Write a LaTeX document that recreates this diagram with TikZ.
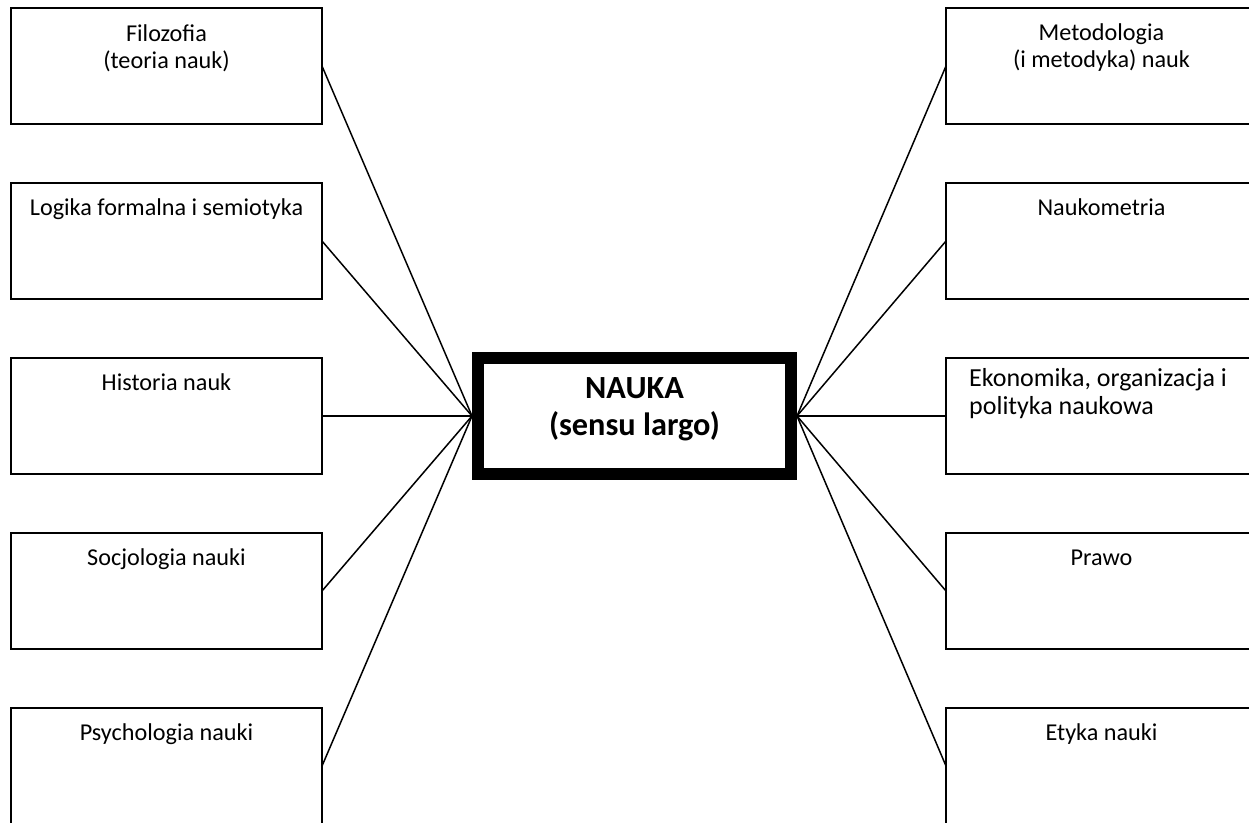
\documentclass[tikz,border=0pt]{standalone}
\usepackage{fontspec}
\setmainfont{Carlito}
\begin{document}
\begin{tikzpicture}[x=1pt,y=-1pt,
  box/.style={draw=black,line width=1.5pt,rectangle,minimum width=311pt,minimum height=116pt,inner sep=0pt,outer sep=0pt,anchor=north west},
  boxtext/.style={anchor=north,inner sep=0pt,align=center,font=\fontsize{24.2pt}{27pt}\selectfont},
  lefttext/.style={anchor=north west,inner sep=0pt,align=left,font=\fontsize{26pt}{27.5pt}\selectfont},
  hub/.style={draw=black,line width=12pt,rectangle,minimum width=313pt,minimum height=116pt,inner sep=0pt,outer sep=6pt},
  hubtext/.style={anchor=north,inner sep=0pt,align=center,font=\fontsize{32.3pt}{37pt}\selectfont\bfseries},
  conn/.style={draw=black,line width=1.5pt}]
\useasboundingbox (0,0) rectangle (1249,822);
\fill[white] (0,0) rectangle (1249,822);
% left boxes
\node[box] (l1) at (11,8) {};
\node[box] (l2) at (11,183) {};
\node[box] (l3) at (11,358) {};
\node[box] (l4) at (11,533) {};
\node[box] (l5) at (11,708) {};
% right boxes
\node[box] (r1) at (946,8) {};
\node[box] (r2) at (946,183) {};
\node[box] (r3) at (946,358) {};
\node[box] (r4) at (946,533) {};
\node[box] (r5) at (946,708) {};
% texts (strut 20pt: node north = baseline - 20)
\def\st{\rule{0pt}{20pt}}
\node[boxtext] (t1) at ([yshift=-13pt]l1.north) {\st Filozofia\\(teoria nauk)};
\node[boxtext] (t2) at ([yshift=-12pt]l2.north) {\st Logika formalna i semiotyka};
\node[boxtext] (t3) at ([yshift=-12pt]l3.north) {\st Historia nauk};
\node[boxtext] (t4) at ([yshift=-12pt]l4.north) {\st Socjologia nauki};
\node[boxtext] (t5) at ([yshift=-12pt]l5.north) {\st Psychologia nauki};
\node[boxtext] (u1) at ([yshift=-12pt]r1.north) {\st Metodologia\\(i metodyka) nauk};
\node[boxtext] (u2) at ([yshift=-12pt]r2.north) {\st Naukometria};
\node[lefttext] (u3) at ([xshift=23pt,yshift=-8.5pt]r3.north west) {\st Ekonomika, organizacja i\\polityka naukowa};
\node[boxtext] (u4) at ([yshift=-12pt]r4.north) {\st Prawo};
\node[boxtext] (u5) at ([yshift=-12pt]r5.north) {\st Etyka nauki};
% hub
\node[hub] (c) at (634.5,416) {};
\node[hubtext] (ct) at ([yshift=-21pt]c.north) {\rule{0pt}{25pt}NAUKA\\(sensu largo)};
% connectors
\foreach \n in {l1,l2,l3,l4,l5} \draw[conn] (\n.east) -- (c.west);
\foreach \n in {r1,r2,r3,r4,r5} \draw[conn] (c.east) -- (\n.west);
\end{tikzpicture}
\end{document}
